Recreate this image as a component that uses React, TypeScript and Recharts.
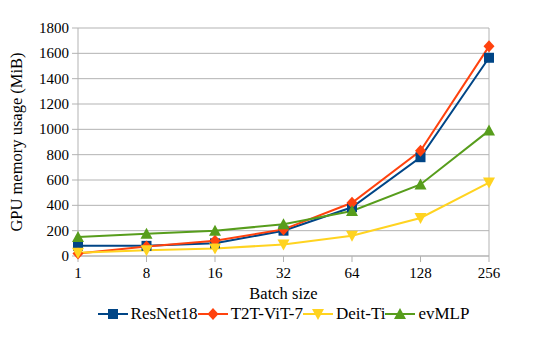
import React from "react";
import {
  LineChart,
  Line,
  XAxis,
  YAxis,
  CartesianGrid,
  Legend,
  ReferenceLine,
} from "recharts";

const batchSizes = ["1", "8", "16", "32", "64", "128", "256"];
const resnet18 = [80, 80, 100, 200, 385, 780, 1565];
const t2tVit7 = [20, 75, 120, 210, 420, 830, 1655];
const deitTi = [25, 45, 60, 90, 160, 300, 580];
const evMlp = [150, 175, 200, 250, 355, 565, 990];
const yTicks = [0, 200, 400, 600, 800, 1000, 1200, 1400, 1600, 1800];

const data = batchSizes.map((b, i) => ({
  batch: b,
  ResNet18: resnet18[i],
  "T2T-ViT-7": t2tVit7[i],
  "Deit-Ti": deitTi[i],
  evMLP: evMlp[i],
}));

const FONT = '"Liberation Serif", serif';

function marker(kind: string, color: string, cx: number, cy: number, key?: any) {
  if (kind === "square") {
    return <rect key={key} x={cx - 5} y={cy - 5} width={10} height={10} fill={color} />;
  }
  if (kind === "diamond") {
    return (
      <polygon
        key={key}
        points={`${cx},${cy - 6} ${cx + 5.5},${cy} ${cx},${cy + 6} ${cx - 5.5},${cy}`}
        fill={color}
      />
    );
  }
  if (kind === "down") {
    return (
      <polygon
        key={key}
        points={`${cx - 6},${cy - 5} ${cx + 6},${cy - 5} ${cx},${cy + 6}`}
        fill={color}
      />
    );
  }
  return (
    <polygon
      key={key}
      points={`${cx - 6},${cy + 5} ${cx + 6},${cy + 5} ${cx},${cy - 6}`}
      fill={color}
    />
  );
}

const series = [
  { key: "ResNet18", color: "#004586", kind: "square" },
  { key: "T2T-ViT-7", color: "#ff420e", kind: "diamond" },
  { key: "Deit-Ti", color: "#ffd320", kind: "down" },
  { key: "evMLP", color: "#579d1c", kind: "up" },
];

function LegendContent() {
  return (
    <div style={{ display: "flex", justifyContent: "center", fontFamily: FONT, fontSize: 17, height: 26, alignItems: "center" }}>
      {series.map((s) => (
        <div key={s.key} style={{ display: "flex", alignItems: "center" }}>
          <svg width={30} height={14}>
            <line x1={0} y1={7} x2={30} y2={7} stroke={s.color} strokeWidth={2} />
            {marker(s.kind, s.color, 15, 7)}
          </svg>
          <span style={{ marginLeft: 3 }}>{s.key}</span>
        </div>
      ))}
    </div>
  );
}

function XTick(p: any) {
  return (
    <text x={p.x} y={p.y + 13} textAnchor="middle" fill="#000" fontFamily={FONT} fontSize={15}>
      {p.payload.value}
    </text>
  );
}

function YTick(p: any) {
  return (
    <text x={p.x} y={p.y + 5} textAnchor="end" fill="#000" fontFamily={FONT} fontSize={15}>
      {p.payload.value}
    </text>
  );
}

export default function App() {
  return (
    <div style={{ position: "absolute", left: 0, top: 0, background: "#fff" }}>
      <LineChart width={548} height={341} data={data} margin={{ top: 28, right: 59, bottom: 14, left: 0 }}>
        <CartesianGrid vertical={false} stroke="#b3b3b3" />
        <XAxis
          dataKey="batch"
          height={45}
          stroke="#b3b3b3"
          tickSize={6}
          tick={<XTick />}
          tickMargin={3}
          label={{ value: "Batch size", position: "insideBottom", offset: 2, style: { fill: "#000", fontFamily: FONT, fontSize: 16.5 } }}
        />
        <YAxis
          width={78}
          domain={[0, 1800]}
          ticks={yTicks}
          stroke="#b3b3b3"
          tickSize={6}
          tickMargin={3}
          tick={<YTick />}
          label={{ value: "GPU memory usage (MiB)", angle: -90, position: "insideLeft", offset: 16, style: { textAnchor: "middle", fill: "#000", fontFamily: FONT, fontSize: 16.5 } }}
        />
        <ReferenceLine x="256" stroke="#b3b3b3" />
        <Legend
          verticalAlign="bottom"
          content={<LegendContent />}
          wrapperStyle={{ left: 78, width: 411 }}
        />
        {series.map((s) => (
          <Line
            key={s.key}
            dataKey={s.key}
            stroke={s.color}
            strokeWidth={2}
            isAnimationActive={false}
            dot={(p: any) => marker(s.kind, s.color, p.cx, p.cy, p.index)}
            activeDot={false}
          />
        ))}
      </LineChart>
    </div>
  );
}
